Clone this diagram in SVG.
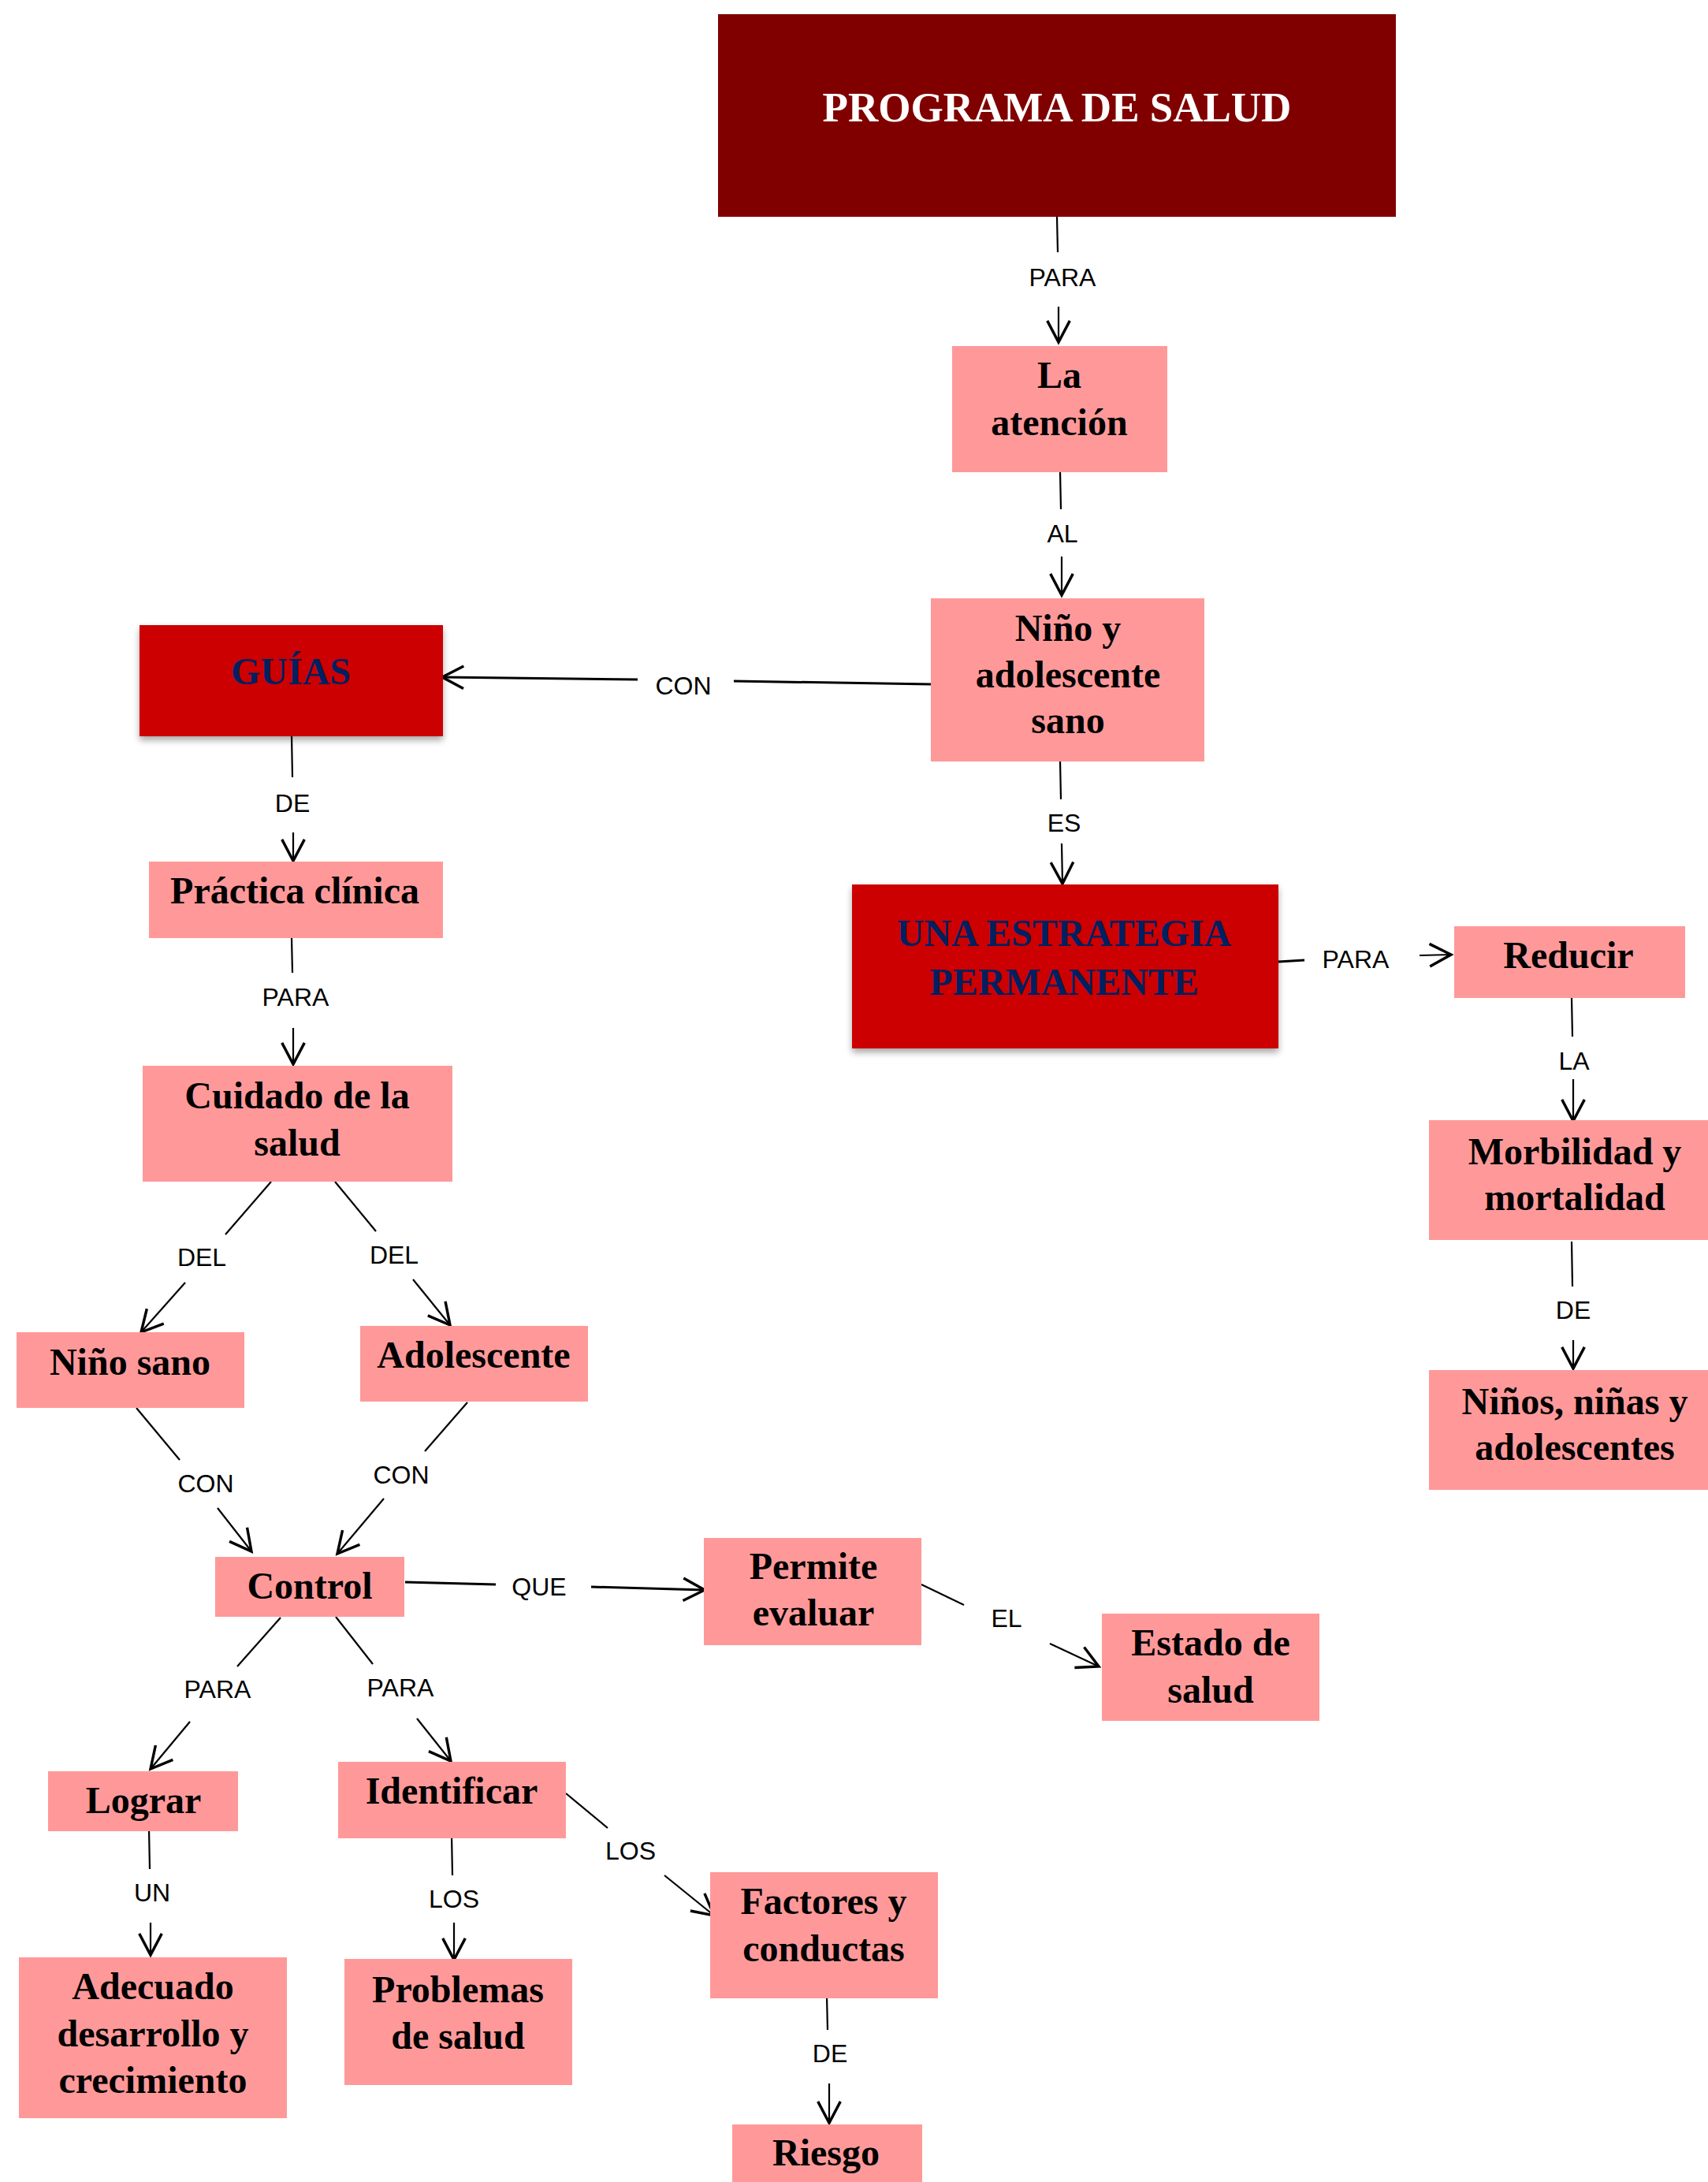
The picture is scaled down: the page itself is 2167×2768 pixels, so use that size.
<svg xmlns="http://www.w3.org/2000/svg" width="2167" height="2768" viewBox="0 0 2167 2768">
<style>
.pink{fill:#FF9999}
.red{fill:#CC0000}
.dark{fill:#800000}
.nt{font-family:"Liberation Serif","Times New Roman",serif;font-weight:bold;font-size:48px;text-anchor:middle;fill:#000}
.navy{fill:#002060}
.white{fill:#fff;font-size:53px}
.lbl{font-family:"Liberation Sans",Arial,sans-serif;font-size:32px;text-anchor:middle;fill:#000}
.ln{stroke:#000;stroke-width:2.2;fill:none}
.ar{stroke:#000;stroke-width:2.2;fill:none;marker-end:url(#arr)}
.thick{stroke-width:3}
</style>
<defs>
<marker id="arr" markerUnits="userSpaceOnUse" markerWidth="40" markerHeight="40" refX="0" refY="0" viewBox="-22 -14 26 28" orient="auto" overflow="visible">
<path d="M-19,-10 L0,0 L-19,10" fill="none" stroke="#000" stroke-width="2.4"/>
</marker>
<filter id="sh" x="-5%" y="-5%" width="110%" height="115%">
<feDropShadow dx="0" dy="5" stdDeviation="4" flood-color="#000" flood-opacity="0.35"/>
</filter>
</defs>
<rect width="2167" height="2768" fill="#fff"/>

<g id="connectors">
<line class="ln" x1="1341" y1="275" x2="1342" y2="320"/>
<text class="lbl" x="1348" y="363">PARA</text>
<line class="ar" x1="1343" y1="389" x2="1343" y2="434"/>

<line class="ln" x1="1345" y1="598" x2="1346" y2="646"/>
<text class="lbl" x="1348" y="688">AL</text>
<line class="ar" x1="1347" y1="706" x2="1347" y2="755"/>

<line class="ln thick" x1="1181" y1="868" x2="931" y2="864"/>
<text class="lbl" x="867" y="881">CON</text>
<line class="ar thick" x1="809" y1="862" x2="561" y2="859"/>

<line class="ln" x1="1345" y1="965" x2="1346" y2="1014"/>
<text class="lbl" x="1350" y="1055">ES</text>
<line class="ar" x1="1347" y1="1070" x2="1348" y2="1121"/>

<line class="ln" x1="370" y1="934" x2="371" y2="986"/>
<text class="lbl" x="371" y="1030">DE</text>
<line class="ar" x1="372" y1="1056" x2="372" y2="1092"/>

<line class="ln" x1="370" y1="1190" x2="371" y2="1234"/>
<text class="lbl" x="375" y="1276">PARA</text>
<line class="ar" x1="372" y1="1304" x2="372" y2="1350"/>

<line class="ln thick" x1="1622" y1="1220" x2="1655" y2="1218"/>
<text class="lbl" x="1720" y="1228">PARA</text>
<line class="ar" x1="1801" y1="1212" x2="1841" y2="1211"/>

<line class="ln" x1="1994" y1="1266" x2="1995" y2="1315"/>
<text class="lbl" x="1997" y="1357">LA</text>
<line class="ar" x1="1996" y1="1369" x2="1996" y2="1422"/>

<line class="ln" x1="1994" y1="1575" x2="1995" y2="1632"/>
<text class="lbl" x="1996" y="1673">DE</text>
<line class="ar" x1="1996" y1="1700" x2="1996" y2="1736"/>

<line class="ln" x1="344" y1="1499" x2="286" y2="1566"/>
<text class="lbl" x="256" y="1606">DEL</text>
<line class="ar" x1="235" y1="1627" x2="179" y2="1690"/>

<line class="ln" x1="425" y1="1499" x2="477" y2="1562"/>
<text class="lbl" x="500" y="1603">DEL</text>
<line class="ar" x1="524" y1="1623" x2="571" y2="1681"/>

<line class="ln" x1="173" y1="1786" x2="228" y2="1852"/>
<text class="lbl" x="261" y="1893">CON</text>
<line class="ar" x1="276" y1="1913" x2="319" y2="1968"/>

<line class="ln" x1="593" y1="1779" x2="539" y2="1841"/>
<text class="lbl" x="509" y="1882">CON</text>
<line class="ar" x1="487" y1="1901" x2="428" y2="1971"/>

<line class="ln thick" x1="514" y1="2007" x2="629" y2="2010"/>
<text class="lbl" x="684" y="2024">QUE</text>
<line class="ar thick" x1="750" y1="2013" x2="894" y2="2017"/>

<line class="ln" x1="1169" y1="2010" x2="1223" y2="2036"/>
<text class="lbl" x="1277" y="2064">EL</text>
<line class="ar" x1="1332" y1="2085" x2="1394" y2="2114"/>

<line class="ln" x1="356" y1="2052" x2="301" y2="2114"/>
<text class="lbl" x="276" y="2154">PARA</text>
<line class="ar" x1="241" y1="2184" x2="191" y2="2244"/>

<line class="ln" x1="426" y1="2051" x2="473" y2="2111"/>
<text class="lbl" x="508" y="2152">PARA</text>
<line class="ar" x1="529" y1="2180" x2="572" y2="2234"/>

<line class="ln" x1="189" y1="2320" x2="190" y2="2371"/>
<text class="lbl" x="193" y="2412">UN</text>
<line class="ar" x1="191" y1="2439" x2="191" y2="2480"/>

<line class="ln" x1="573" y1="2328" x2="574" y2="2379"/>
<text class="lbl" x="576" y="2420">LOS</text>
<line class="ar" x1="576" y1="2439" x2="576" y2="2486"/>

<line class="ln" x1="718" y1="2275" x2="771" y2="2319"/>
<text class="lbl" x="800" y="2359">LOS</text>
<line class="ar" x1="843" y1="2379" x2="906" y2="2430"/>

<line class="ln" x1="1049" y1="2532" x2="1050" y2="2575"/>
<text class="lbl" x="1053" y="2616">DE</text>
<line class="ar" x1="1052" y1="2643" x2="1052" y2="2693"/>
</g>

<g id="n_programa">
<rect class="dark" x="911" y="18" width="860" height="257"/>
<text class="nt white" x="1341" y="154">PROGRAMA DE SALUD</text>
</g>
<g id="n_atencion">
<rect class="pink" x="1208" y="439" width="273" height="160"/>
<text class="nt" x="1344" y="492">La</text>
<text class="nt" x="1344" y="552">atención</text>
</g>
<g id="n_nino_adolescente">
<rect class="pink" x="1181" y="759" width="347" height="207"/>
<text class="nt" x="1355" y="813">Niño y</text>
<text class="nt" x="1355" y="872">adolescente</text>
<text class="nt" x="1355" y="930">sano</text>
</g>
<g id="n_guias">
<rect class="red" x="177" y="793" width="385" height="141" filter="url(#sh)"/>
<text class="nt navy" x="369" y="868">GUÍAS</text>
</g>
<g id="n_practica">
<rect class="pink" x="189" y="1093" width="373" height="97"/>
<text class="nt" x="374" y="1146">Práctica clínica</text>
</g>
<g id="n_cuidado">
<rect class="pink" x="181" y="1352" width="393" height="147"/>
<text class="nt" x="377" y="1406">Cuidado de la</text>
<text class="nt" x="377" y="1466">salud</text>
</g>
<g id="n_estrategia">
<rect class="red" x="1081" y="1122" width="541" height="208" filter="url(#sh)"/>
<text class="nt navy" x="1350" y="1200">UNA ESTRATEGIA</text>
<text class="nt navy" x="1350" y="1262">PERMANENTE</text>
</g>
<g id="n_reducir">
<rect class="pink" x="1845" y="1175" width="293" height="91"/>
<text class="nt" x="1990" y="1228">Reducir</text>
</g>
<g id="n_morbilidad">
<rect class="pink" x="1813" y="1421" width="354" height="152"/>
<text class="nt" x="1998" y="1477">Morbilidad y</text>
<text class="nt" x="1998" y="1535">mortalidad</text>
</g>
<g id="n_ninos">
<rect class="pink" x="1813" y="1738" width="354" height="152"/>
<text class="nt" x="1998" y="1794">Niños, niñas y</text>
<text class="nt" x="1998" y="1852">adolescentes</text>
</g>
<g id="n_nino_sano">
<rect class="pink" x="21" y="1690" width="289" height="96"/>
<text class="nt" x="165" y="1744">Niño sano</text>
</g>
<g id="n_adolescente">
<rect class="pink" x="457" y="1682" width="289" height="96"/>
<text class="nt" x="601" y="1735">Adolescente</text>
</g>
<g id="n_control">
<rect class="pink" x="273" y="1975" width="240" height="76"/>
<text class="nt" x="393" y="2028">Control</text>
</g>
<g id="n_permite">
<rect class="pink" x="893" y="1951" width="276" height="136"/>
<text class="nt" x="1032" y="2003">Permite</text>
<text class="nt" x="1032" y="2062">evaluar</text>
</g>
<g id="n_estado">
<rect class="pink" x="1398" y="2047" width="276" height="136"/>
<text class="nt" x="1536" y="2100">Estado de</text>
<text class="nt" x="1536" y="2160">salud</text>
</g>
<g id="n_lograr">
<rect class="pink" x="61" y="2247" width="241" height="76"/>
<text class="nt" x="182" y="2300">Lograr</text>
</g>
<g id="n_identificar">
<rect class="pink" x="429" y="2235" width="289" height="97"/>
<text class="nt" x="573" y="2288">Identificar</text>
</g>
<g id="n_adecuado">
<rect class="pink" x="24" y="2483" width="340" height="204"/>
<text class="nt" x="194" y="2536">Adecuado</text>
<text class="nt" x="194" y="2596">desarrollo y</text>
<text class="nt" x="194" y="2655">crecimiento</text>
</g>
<g id="n_problemas">
<rect class="pink" x="437" y="2485" width="289" height="160"/>
<text class="nt" x="581" y="2540">Problemas</text>
<text class="nt" x="581" y="2599">de salud</text>
</g>
<g id="n_factores">
<rect class="pink" x="901" y="2375" width="289" height="160"/>
<text class="nt" x="1045" y="2428">Factores y</text>
<text class="nt" x="1045" y="2488">conductas</text>
</g>
<g id="n_riesgo">
<rect class="pink" x="929" y="2695" width="241" height="80"/>
<text class="nt" x="1048" y="2747">Riesgo</text>
</g>
</svg>
